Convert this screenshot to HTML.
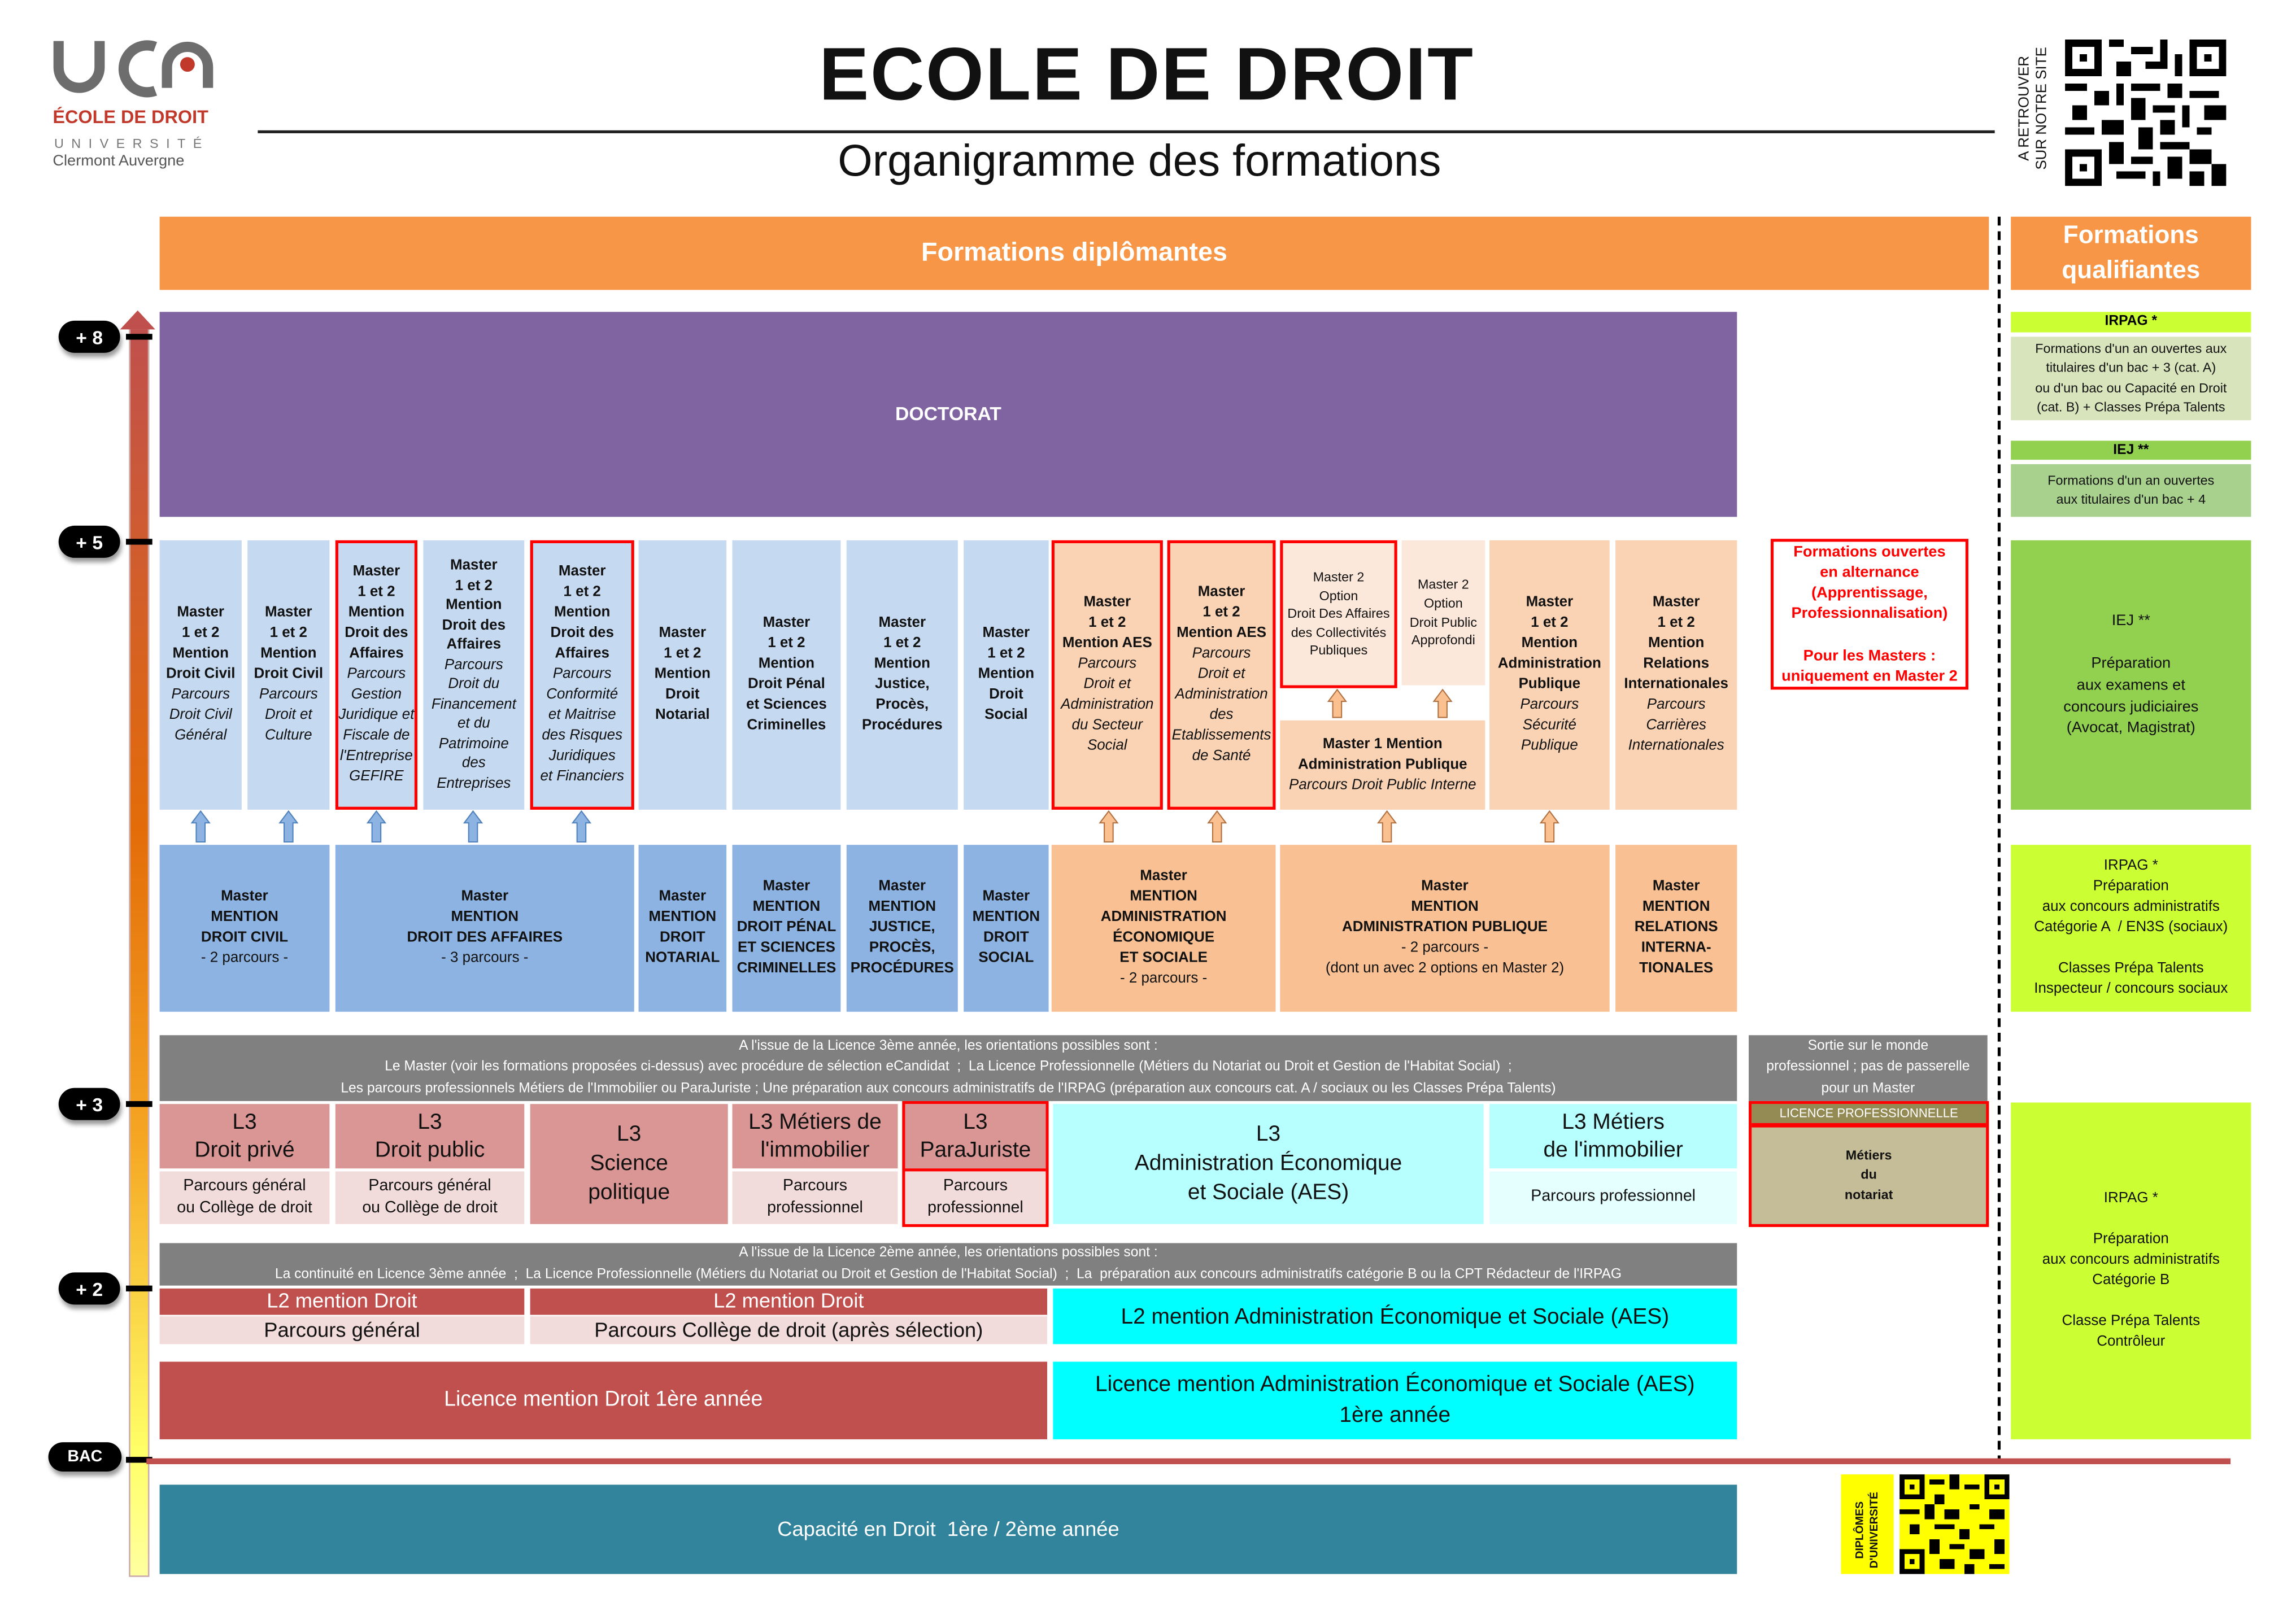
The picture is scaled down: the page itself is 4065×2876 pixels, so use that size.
<!DOCTYPE html>
<html><head><meta charset="utf-8"><style>
html,body{margin:0;padding:0;background:#fff;}
#w{width:4065px;height:2876px;overflow:hidden;position:relative;}
#p{position:absolute;left:0;top:0;width:1570px;height:1110px;transform:scale(2.593);transform-origin:0 0;font-family:"Liberation Sans Narrow","Liberation Sans",sans-serif;}
.b{position:absolute;display:flex;flex-direction:column;align-items:center;justify-content:center;text-align:center;box-sizing:border-box;line-height:1.4;}
.m{font-size:10px;color:#111;}
.m b{font-weight:bold;}
.m i{font-style:italic;}
.lb{background:#C5D9F1;}
.db{background:#8DB3E2;}
.pc{background:#FAD2B4;}
.pl{background:#FCE8DA;}
.pd{background:#F9C093;}
.rb{border:2.5px solid #F00;}
.g{background:#808080;color:#fff;font-size:9.5px;line-height:1.5;}
.circ{position:absolute;background:#000;color:#fff;border-radius:50%;font-family:"Liberation Sans",sans-serif;font-weight:bold;font-size:13px;display:flex;align-items:center;justify-content:center;box-shadow:1px 3px 3px rgba(0,0,0,.4);}
.tick{position:absolute;left:86px;width:18px;height:4px;background:#000;}
</style></head><body><div id="w"><div id="p">

<!-- logo -->
<svg style="position:absolute;left:34px;top:24px" width="115" height="45" viewBox="0 0 115 45">
<path d="M6 4 V22 a14 14 0 0 0 28 0 V4" fill="none" stroke="#6d6d6d" stroke-width="7"/>
<path d="M72 8 a16 16 0 1 0 0 30" fill="none" stroke="#6d6d6d" stroke-width="7"/>
<path d="M80 36 V22 a14 14 0 0 1 28 0 V36" fill="none" stroke="#6d6d6d" stroke-width="7"/>
<circle cx="94" cy="20" r="5" fill="#C0392B"/>
</svg>
<div style="position:absolute;left:36px;top:73px;font-family:'Liberation Sans',sans-serif;font-weight:bold;color:#C0392B;font-size:12.5px;">ÉCOLE DE DROIT</div>
<div style="position:absolute;left:37px;top:93px;font-family:'Liberation Sans',sans-serif;color:#777;font-size:9px;letter-spacing:5.2px;">UNIVERSITÉ</div>
<div style="position:absolute;left:36px;top:104px;font-family:'Liberation Sans',sans-serif;color:#555;font-size:10.5px;">Clermont Auvergne</div>

<!-- title -->
<div style="position:absolute;left:400px;width:766px;top:21px;text-align:center;font-family:'Liberation Sans',sans-serif;font-weight:bold;font-size:51px;color:#111;letter-spacing:1px;">ECOLE DE DROIT</div>
<div style="position:absolute;left:176px;top:89px;width:1186px;height:2px;background:#222;"></div>
<div style="position:absolute;left:400px;width:756px;top:93px;text-align:center;font-family:'Liberation Sans',sans-serif;font-size:30.5px;color:#111;">Organigramme des formations</div>

<!-- top-right QR -->
<div style="position:absolute;left:1373px;top:28px;width:32px;height:100px;">
<div style="position:absolute;left:-34px;top:34px;width:100px;transform:rotate(-90deg);font-family:'Liberation Sans',sans-serif;font-size:10px;line-height:12px;color:#111;text-align:center;">A RETROUVER<br>SUR NOTRE SITE</div></div>
<svg style="position:absolute;left:1410px;top:27px" width="110" height="100" viewBox="0 0 22 20" shape-rendering="crispEdges">
<rect width="22" height="20" fill="#fff"/>
<g fill="#000">
<rect x="0" y="0" width="5" height="5"/><rect x="17" y="0" width="5" height="5"/><rect x="0" y="15" width="5" height="5"/>
</g><g fill="#fff"><rect x="1" y="1" width="3" height="3"/><rect x="18" y="1" width="3" height="3"/><rect x="1" y="16" width="3" height="3"/></g>
<g fill="#000"><rect x="2" y="2" width="1" height="1"/><rect x="19" y="2" width="1" height="1"/><rect x="2" y="17" width="1" height="1"/>
<rect x="6" y="0" width="2" height="1"/><rect x="9" y="1" width="3" height="1"/><rect x="13" y="0" width="1" height="3"/><rect x="7" y="3" width="2" height="2"/><rect x="11" y="3" width="3" height="1"/><rect x="15" y="2" width="1" height="3"/>
<rect x="0" y="6" width="3" height="1"/><rect x="4" y="7" width="2" height="2"/><rect x="7" y="6" width="1" height="3"/><rect x="9" y="6" width="4" height="1"/><rect x="14" y="6" width="2" height="2"/><rect x="17" y="7" width="4" height="1"/>
<rect x="1" y="9" width="2" height="2"/><rect x="9" y="8" width="2" height="3"/><rect x="12" y="9" width="3" height="1"/><rect x="16" y="9" width="1" height="3"/><rect x="19" y="9" width="3" height="2"/>
<rect x="0" y="12" width="4" height="1"/><rect x="5" y="11" width="3" height="2"/><rect x="10" y="12" width="2" height="3"/><rect x="13" y="11" width="2" height="2"/><rect x="18" y="12" width="2" height="1"/>
<rect x="6" y="14" width="2" height="3"/><rect x="9" y="16" width="3" height="1"/><rect x="13" y="14" width="4" height="1"/><rect x="14" y="16" width="2" height="3"/><rect x="17" y="15" width="3" height="2"/><rect x="20" y="17" width="2" height="3"/>
<rect x="7" y="18" width="4" height="1"/><rect x="12" y="18" width="1" height="2"/><rect x="17" y="18" width="2" height="2"/></g></svg>

<!-- headers -->
<div class="b" style="left:109px;top:148px;width:1249px;height:50px;background:#F79646;color:#fff;font-family:'Liberation Sans',sans-serif;font-weight:bold;font-size:18px;">Formations diplômantes</div>
<div class="b" style="left:1373px;top:148px;width:164px;height:50px;background:#F79646;color:#fff;font-family:'Liberation Sans',sans-serif;font-weight:bold;font-size:17px;line-height:1.4;">Formations<br>qualifiantes</div>
<div style="position:absolute;left:1364px;top:148px;width:0;height:852px;border-left:2px dashed #000;"></div>

<!-- axis -->
<div style="position:absolute;left:88px;top:224px;width:12px;height:851px;background:linear-gradient(#C0504D,#E36C09 40%,#F5A623 65%,#FFFF66 90%,#FFFFA0);border:1px solid #caa;"></div>
<svg style="position:absolute;left:82px;top:212px" width="24" height="14"><polygon points="12,0 24,13 0,13" fill="#C0504D"/></svg>
<div class="tick" style="top:228px"></div><div class="tick" style="top:368px"></div><div class="tick" style="top:752px"></div><div class="tick" style="top:878px"></div><div class="tick" style="top:995px"></div>
<div class="circ" style="left:40px;top:219px;width:42px;height:22px;border-radius:11px;">+ 8</div>
<div class="circ" style="left:40px;top:359px;width:42px;height:22px;border-radius:11px;">+ 5</div>
<div class="circ" style="left:40px;top:743px;width:42px;height:22px;border-radius:11px;">+ 3</div>
<div class="circ" style="left:40px;top:869px;width:42px;height:22px;border-radius:11px;">+ 2</div>
<div class="circ" style="left:33px;top:985px;width:50px;height:20px;border-radius:10px;font-size:11px;">BAC</div>

<!-- doctorat -->
<div class="b" style="left:109px;top:213px;width:1077px;height:140px;background:#8064A2;color:#fff;font-family:'Liberation Sans',sans-serif;font-weight:bold;font-size:13px;">DOCTORAT</div>

<!-- upper masters -->
<div class="b m lb" style="left:109px;top:369px;width:56px;height:184px;"><b>Master<br>1 et 2<br>Mention<br>Droit Civil</b><i>Parcours<br>Droit Civil<br>Général</i></div>
<div class="b m lb" style="left:169px;top:369px;width:56px;height:184px;"><b>Master<br>1 et 2<br>Mention<br>Droit Civil</b><i>Parcours<br>Droit et<br>Culture</i></div>
<div class="b m lb rb" style="left:229px;top:369px;width:56px;height:184px;"><b>Master<br>1 et 2<br>Mention<br>Droit des<br>Affaires</b><i>Parcours<br>Gestion<br>Juridique et<br>Fiscale de<br>l'Entreprise<br>GEFIRE</i></div>
<div class="b m lb" style="left:289px;top:369px;width:69px;height:184px;line-height:1.35;"><b>Master<br>1 et 2<br>Mention<br>Droit des<br>Affaires</b><i>Parcours<br>Droit du<br>Financement<br>et du<br>Patrimoine<br>des<br>Entreprises</i></div>
<div class="b m lb rb" style="left:362px;top:369px;width:71px;height:184px;"><b>Master<br>1 et 2<br>Mention<br>Droit des<br>Affaires</b><i>Parcours<br>Conformité<br>et Maitrise<br>des Risques<br>Juridiques<br>et Financiers</i></div>
<div class="b m lb" style="left:436px;top:369px;width:60px;height:184px;"><b>Master<br>1 et 2<br>Mention<br>Droit<br>Notarial</b></div>
<div class="b m lb" style="left:500px;top:369px;width:74px;height:184px;"><b>Master<br>1 et 2<br>Mention<br>Droit Pénal<br>et Sciences<br>Criminelles</b></div>
<div class="b m lb" style="left:578px;top:369px;width:76px;height:184px;"><b>Master<br>1 et 2<br>Mention<br>Justice,<br>Procès,<br>Procédures</b></div>
<div class="b m lb" style="left:658px;top:369px;width:58px;height:184px;"><b>Master<br>1 et 2<br>Mention<br>Droit<br>Social</b></div>
<div class="b m pc rb" style="left:718px;top:369px;width:76px;height:184px;"><b>Master<br>1 et 2<br>Mention AES</b><i>Parcours<br>Droit et<br>Administration<br>du Secteur<br>Social</i></div>
<div class="b m pc rb" style="left:797px;top:369px;width:74px;height:184px;"><b>Master<br>1 et 2<br>Mention AES</b><i>Parcours<br>Droit et<br>Administration<br>des<br>Etablissements<br>de Santé</i></div>
<div class="b m pl rb" style="left:874px;top:369px;width:80px;height:101px;font-size:9px;"><span>Master 2<br>Option<br>Droit Des Affaires<br>des Collectivités<br>Publiques</span></div>
<div class="b m pl" style="left:957px;top:369px;width:57px;height:99px;font-size:9px;"><span>Master 2<br>Option<br>Droit Public<br>Approfondi</span></div>
<div class="b m pc" style="left:874px;top:492px;width:140px;height:61px;"><b>Master 1 Mention<br>Administration Publique</b><i>Parcours Droit Public Interne</i></div>
<div class="b m pc" style="left:1017px;top:369px;width:82px;height:184px;"><b>Master<br>1 et 2<br>Mention<br>Administration<br>Publique</b><i>Parcours<br>Sécurité<br>Publique</i></div>
<div class="b m pc" style="left:1103px;top:369px;width:83px;height:184px;"><b>Master<br>1 et 2<br>Mention<br>Relations<br>Internationales</b><i>Parcours<br>Carrières<br>Internationales</i></div>
<div class="b rb" style="left:1209px;top:368px;width:135px;height:103px;color:#F00;font-weight:bold;font-size:10.5px;line-height:1.35;"><span>Formations ouvertes<br>en alternance<br>(Apprentissage,<br>Professionnalisation)<br><br>Pour les Masters :<br>uniquement en Master 2</span></div>

<!-- arrows -->
<svg style="position:absolute;left:0;top:0" width="1570" height="1110">
<g fill="#8DB3E2" stroke="#4F81BD" stroke-width="0.8">
<polygon points="137,554 143,562 140,562 140,575 134,575 134,562 131,562"/>
<polygon points="197,554 203,562 200,562 200,575 194,575 194,562 191,562"/>
<polygon points="257,554 263,562 260,562 260,575 254,575 254,562 251,562"/>
<polygon points="323,554 329,562 326,562 326,575 320,575 320,562 317,562"/>
<polygon points="397,554 403,562 400,562 400,575 394,575 394,562 391,562"/>
</g>
<g fill="#FAC090" stroke="#B07040" stroke-width="0.8">
<polygon points="757,554 763,562 760,562 760,575 754,575 754,562 751,562"/>
<polygon points="831,554 837,562 834,562 834,575 828,575 828,562 825,562"/>
<polygon points="947,554 953,562 950,562 950,575 944,575 944,562 941,562"/>
<polygon points="1058,554 1064,562 1061,562 1061,575 1055,575 1055,562 1052,562"/>
<polygon points="913,471 919,479 916,479 916,490 910,490 910,479 907,479"/>
<polygon points="985,471 991,479 988,479 988,490 982,490 982,479 979,479"/>
</g>
<line x1="100" y1="998" x2="1523" y2="998" stroke="#C0504D" stroke-width="4"/>
</svg>

<!-- lower masters -->
<div class="b m db" style="left:109px;top:577px;width:116px;height:114px;"><b>Master<br>MENTION<br>DROIT CIVIL</b><span>- 2 parcours -</span></div>
<div class="b m db" style="left:229px;top:577px;width:204px;height:114px;"><b>Master<br>MENTION<br>DROIT DES AFFAIRES</b><span>- 3 parcours -</span></div>
<div class="b m db" style="left:436px;top:577px;width:60px;height:114px;"><b>Master<br>MENTION<br>DROIT<br>NOTARIAL</b></div>
<div class="b m db" style="left:500px;top:577px;width:74px;height:114px;"><b>Master<br>MENTION<br>DROIT PÉNAL<br>ET SCIENCES<br>CRIMINELLES</b></div>
<div class="b m db" style="left:578px;top:577px;width:76px;height:114px;"><b>Master<br>MENTION<br>JUSTICE,<br>PROCÈS,<br>PROCÉDURES</b></div>
<div class="b m db" style="left:658px;top:577px;width:58px;height:114px;"><b>Master<br>MENTION<br>DROIT<br>SOCIAL</b></div>
<div class="b m pd" style="left:718px;top:577px;width:153px;height:114px;"><b>Master<br>MENTION<br>ADMINISTRATION<br>ÉCONOMIQUE<br>ET SOCIALE</b><span>- 2 parcours -</span></div>
<div class="b m pd" style="left:874px;top:577px;width:225px;height:114px;"><b>Master<br>MENTION<br>ADMINISTRATION PUBLIQUE</b><span>- 2 parcours -<br>(dont un avec 2 options en Master 2)</span></div>
<div class="b m pd" style="left:1103px;top:577px;width:83px;height:114px;"><b>Master<br>MENTION<br>RELATIONS<br>INTERNA-<br>TIONALES</b></div>

<!-- right column -->
<div class="b" style="left:1373px;top:213px;width:164px;height:14px;background:#CCFF33;font-weight:bold;font-size:9.5px;">IRPAG *</div>
<div class="b m" style="left:1373px;top:230px;width:164px;height:57px;background:#D8E4BC;font-size:9px;line-height:1.45;">Formations d'un an ouvertes aux<br>titulaires d'un bac + 3 (cat. A)<br>ou d'un bac ou Capacité en Droit<br>(cat. B) + Classes Prépa Talents</div>
<div class="b" style="left:1373px;top:301px;width:164px;height:13px;background:#92D050;font-weight:bold;font-size:9.5px;">IEJ **</div>
<div class="b m" style="left:1373px;top:317px;width:164px;height:36px;background:#A9D18E;font-size:9px;line-height:1.45;">Formations d'un an ouvertes<br>aux titulaires d'un bac + 4</div>
<div class="b m" style="left:1373px;top:369px;width:164px;height:184px;background:#92D050;font-size:10.5px;"><span>IEJ **<br><br>Préparation<br>aux examens et<br>concours judiciaires<br>(Avocat, Magistrat)</span></div>
<div class="b m" style="left:1373px;top:577px;width:164px;height:114px;background:#CCFF33;font-size:10px;"><span>IRPAG *<br>Préparation<br>aux concours administratifs<br>Catégorie A &nbsp;/ EN3S (sociaux)<br><br>Classes Prépa Talents<br>Inspecteur / concours sociaux</span></div>
<div class="b m" style="left:1373px;top:753px;width:164px;height:230px;background:#CCFF33;font-size:10px;"><span>IRPAG *<br><br>Préparation<br>aux concours administratifs<br>Catégorie B<br><br>Classe Prépa Talents<br>Contrôleur</span></div>

<!-- grey bars -->
<div class="b g" style="left:109px;top:707px;width:1077px;height:45px;">A l'issue de la Licence 3ème année, les orientations possibles sont :<br>Le Master (voir les formations proposées ci-dessus) avec procédure de sélection eCandidat&nbsp; ;&nbsp; La Licence Professionnelle (Métiers du Notariat ou Droit et Gestion de l'Habitat Social)&nbsp; ;<br>Les parcours professionnels Métiers de l'Immobilier ou ParaJuriste ; Une préparation aux concours administratifs de l'IRPAG (préparation aux concours cat. A / sociaux ou les Classes Prépa Talents)</div>
<div class="b g" style="left:1194px;top:707px;width:163px;height:45px;">Sortie sur le monde<br>professionnel ; pas de passerelle<br>pour un Master</div>

<!-- L3 -->
<div class="b" style="left:109px;top:754px;width:116px;height:44px;background:#DA9694;font-size:15px;line-height:1.3;color:#111;">L3<br>Droit privé</div>
<div class="b m" style="left:109px;top:800px;width:116px;height:36px;background:#F2DCDB;font-size:11px;">Parcours général<br>ou Collège de droit</div>
<div class="b" style="left:229px;top:754px;width:129px;height:44px;background:#DA9694;font-size:15px;line-height:1.3;color:#111;">L3<br>Droit public</div>
<div class="b m" style="left:229px;top:800px;width:129px;height:36px;background:#F2DCDB;font-size:11px;">Parcours général<br>ou Collège de droit</div>
<div class="b" style="left:362px;top:754px;width:135px;height:82px;background:#DA9694;font-size:15px;line-height:1.35;color:#111;">L3<br>Science<br>politique</div>
<div class="b" style="left:500px;top:754px;width:113px;height:44px;background:#DA9694;font-size:15px;line-height:1.3;color:#111;">L3 Métiers de<br>l'immobilier</div>
<div class="b m" style="left:500px;top:800px;width:113px;height:36px;background:#F2DCDB;font-size:11px;">Parcours<br>professionnel</div>
<div class="b rb" style="left:616px;top:752px;width:100px;height:86px;border-width:2.5px;"></div>
<div class="b" style="left:618px;top:754px;width:96px;height:44px;background:#DA9694;font-size:15px;line-height:1.3;color:#111;">L3<br>ParaJuriste</div>
<div style="position:absolute;left:618px;top:798px;width:96px;height:2.5px;background:#F00;"></div>
<div class="b m" style="left:618px;top:800px;width:96px;height:36px;background:#F2DCDB;font-size:11px;">Parcours<br>professionnel</div>
<div class="b" style="left:719px;top:754px;width:294px;height:82px;background:#B7FFFF;font-size:15px;line-height:1.35;color:#111;">L3<br>Administration Économique<br>et Sociale (AES)</div>
<div class="b" style="left:1017px;top:754px;width:169px;height:44px;background:#B7FFFF;font-size:15px;line-height:1.3;color:#111;">L3 Métiers<br>de l'immobilier</div>
<div class="b m" style="left:1017px;top:800px;width:169px;height:36px;background:#E5FFFF;font-size:11px;">Parcours professionnel</div>
<div class="b rb" style="left:1194px;top:752px;width:164px;height:86px;background:#C4BD97;"></div>
<div class="b" style="left:1196px;top:754px;width:160px;height:13px;background:#948A54;color:#fff;font-size:8.5px;">LICENCE PROFESSIONNELLE</div>
<div style="position:absolute;left:1196px;top:767px;width:160px;height:2.5px;background:#F00;"></div>
<div class="b m" style="left:1196px;top:770px;width:160px;height:66px;font-size:9px;font-weight:bold;line-height:1.5;">Métiers<br>du<br>notariat</div>

<!-- grey bar 2 -->
<div class="b g" style="left:109px;top:849px;width:1077px;height:29px;">A l'issue de la Licence 2ème année, les orientations possibles sont :<br>La continuité en Licence 3ème année&nbsp; ;&nbsp; La Licence Professionnelle (Métiers du Notariat ou Droit et Gestion de l'Habitat Social)&nbsp; ;&nbsp; La&nbsp; préparation aux concours administratifs catégorie B ou la CPT Rédacteur de l'IRPAG</div>

<!-- L2 -->
<div class="b" style="left:109px;top:880px;width:249px;height:18px;background:#C0504D;color:#fff;font-size:14px;">L2 mention Droit</div>
<div class="b" style="left:109px;top:899px;width:249px;height:19px;background:#F2DCDB;color:#111;font-size:14px;">Parcours général</div>
<div class="b" style="left:362px;top:880px;width:353px;height:18px;background:#C0504D;color:#fff;font-size:14px;">L2 mention Droit</div>
<div class="b" style="left:362px;top:899px;width:353px;height:19px;background:#F2DCDB;color:#111;font-size:14px;">Parcours Collège de droit (après sélection)</div>
<div class="b" style="left:719px;top:880px;width:467px;height:38px;background:#00FFFF;color:#111;font-size:15px;">L2 mention Administration Économique et Sociale (AES)</div>

<!-- L1 -->
<div class="b" style="left:109px;top:930px;width:606px;height:53px;background:#C0504D;color:#fff;font-size:14.5px;font-family:'Liberation Sans',sans-serif;">Licence mention Droit 1ère année</div>
<div class="b" style="left:719px;top:930px;width:467px;height:53px;background:#00FFFF;color:#111;font-size:15px;line-height:1.35;font-family:'Liberation Sans',sans-serif;">Licence mention Administration Économique et Sociale (AES)<br>1ère année</div>

<!-- capacite -->
<div class="b" style="left:109px;top:1014px;width:1077px;height:61px;background:#31849B;color:#fff;font-size:14px;font-family:'Liberation Sans',sans-serif;">Capacité en Droit&nbsp; 1ère / 2ème année</div>

<!-- DU -->
<div style="position:absolute;left:1257px;top:1007px;width:36px;height:68px;background:#FFFF00;"></div>
<div style="position:absolute;left:1241px;top:1035px;width:68px;transform:rotate(-90deg);font-family:'Liberation Sans',sans-serif;font-size:7.5px;font-weight:bold;line-height:10px;text-align:center;color:#111;">DIPLÔMES<br>D'UNIVERSITÉ</div>
<svg style="position:absolute;left:1297px;top:1007px" width="75" height="68" viewBox="0 0 22 20" shape-rendering="crispEdges" preserveAspectRatio="none">
<rect width="22" height="20" fill="#FFFF00"/>
<g fill="#000"><rect x="0" y="0" width="5" height="5"/><rect x="17" y="0" width="5" height="5"/><rect x="0" y="15" width="5" height="5"/></g>
<g fill="#FFFF00"><rect x="1" y="1" width="3" height="3"/><rect x="18" y="1" width="3" height="3"/><rect x="1" y="16" width="3" height="3"/></g>
<g fill="#000"><rect x="2" y="2" width="1" height="1"/><rect x="19" y="2" width="1" height="1"/><rect x="2" y="17" width="1" height="1"/>
<rect x="6" y="1" width="3" height="1"/><rect x="10" y="0" width="2" height="3"/><rect x="13" y="2" width="3" height="1"/><rect x="7" y="4" width="2" height="2"/>
<rect x="0" y="7" width="4" height="1"/><rect x="5" y="6" width="2" height="3"/><rect x="9" y="7" width="3" height="2"/><rect x="14" y="6" width="2" height="1"/><rect x="18" y="7" width="3" height="2"/>
<rect x="2" y="10" width="2" height="2"/><rect x="7" y="10" width="4" height="1"/><rect x="12" y="11" width="2" height="2"/><rect x="16" y="10" width="3" height="1"/>
<rect x="6" y="13" width="2" height="3"/><rect x="10" y="14" width="3" height="1"/><rect x="14" y="15" width="3" height="2"/><rect x="19" y="13" width="2" height="3"/>
<rect x="8" y="17" width="3" height="2"/><rect x="13" y="18" width="2" height="2"/><rect x="18" y="18" width="3" height="1"/></g></svg>

</div></div></body></html>
